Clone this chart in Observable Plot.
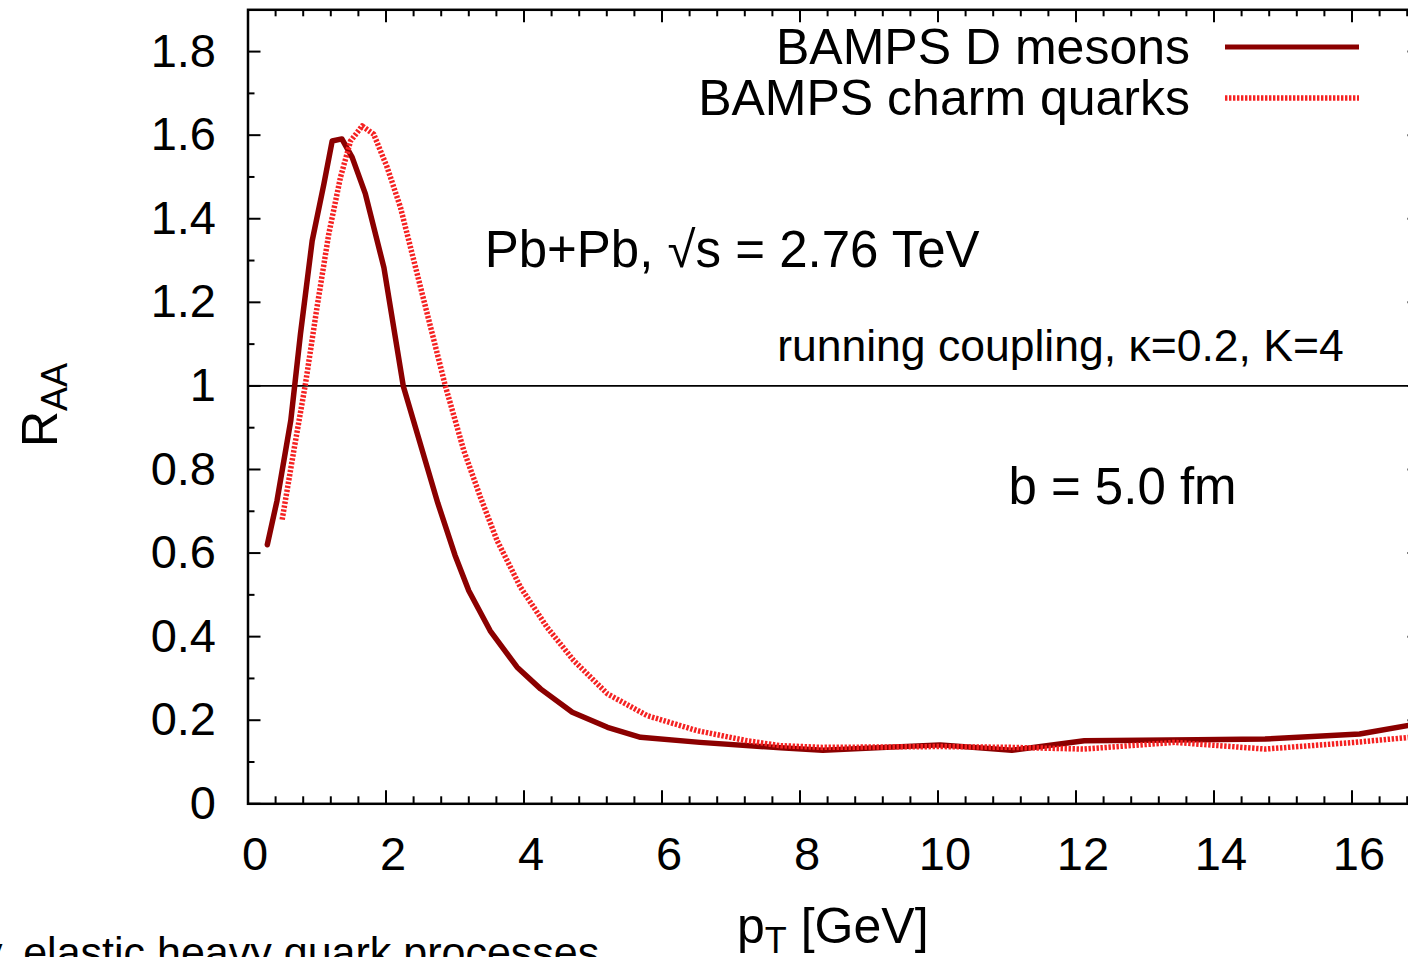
<!DOCTYPE html>
<html>
<head>
<meta charset="utf-8">
<script src="https://cdn.jsdelivr.net/npm/d3@7"></script>
<script src="https://cdn.jsdelivr.net/npm/@observablehq/plot@0.6"></script>
<style>
  html, body { margin: 0; padding: 0; overflow: hidden; background: white; }
  #wrap { position: relative; width: 1408px; height: 957px; overflow: hidden; font-family: "Liberation Sans", Arial, Helvetica, sans-serif; color: black; }
  #chart { position: absolute; left: 0; top: 0; width: 1430px; }
  #chart svg { max-width: none !important; width: 1430px; height: 957px; }
  .ov { position: absolute; white-space: nowrap; line-height: 1; }
  sub { font-size: 0.72em; vertical-align: -0.28em; line-height: 0; }
</style>
</head>
<body>
<div id="wrap">
  <div id="chart"></div>
  <div class="ov" id="legend1" style="right:218px; top:22px; font-size:50px;">BAMPS D mesons</div>
  <div class="ov" id="legend2" style="right:218px; top:73px; font-size:50px;">BAMPS charm quarks</div>
  <svg class="ov" style="left:1225px; top:37px;" width="134" height="70">
    <line x1="0" x2="134" y1="10" y2="10" stroke="#8b0000" stroke-width="5"></line>
    <line x1="0" x2="134" y1="61" y2="61" stroke="#f52222" stroke-width="5.5" stroke-dasharray="2.4,1.6"></line>
  </svg>
  <div class="ov" style="left:737px; top:901px; font-size:50px;">p<sub>T</sub> [GeV]</div>
  <div class="ov" style="left:40px; top:405px; font-size:50px; transform: translate(-50%,-50%) rotate(-90deg);">R<sub>AA</sub></div>
  <div class="ov" style="left:-19px; top:931px; font-size:43px;">y, elastic heavy quark processes</div>
</div>
<script>
// BAMPS D mesons (solid dark red)
const dMesonPt  = [0.28, 0.42, 0.62, 0.76, 0.93, 1.10, 1.22, 1.36, 1.51, 1.70, 1.97, 2.25, 2.50, 2.75, 3.00, 3.20, 3.51, 3.90, 4.24, 4.70, 5.21, 5.69, 6.55, 7.72, 8.33, 10.03, 11.07, 12.12, 13.75, 14.74, 16.11, 16.90];
const dMesonRaa = [0.62, 0.725, 0.917, 1.124, 1.347, 1.483, 1.586, 1.591, 1.547, 1.46, 1.283, 1.0, 0.86, 0.72, 0.595, 0.51, 0.414, 0.327, 0.275, 0.219, 0.183, 0.159, 0.147, 0.134, 0.128, 0.141, 0.128, 0.151, 0.153, 0.155, 0.167, 0.19];

// BAMPS charm quarks (dotted red)
const charmPt  = [0.495, 0.664, 0.833, 1.0, 1.17, 1.34, 1.486, 1.655, 1.823, 2.017, 2.21, 2.452, 2.693, 2.86, 3.128, 3.37, 3.61, 3.95, 4.336, 4.72, 5.21, 5.785, 6.51, 7.23, 7.72, 8.33, 10.03, 11.07, 12.12, 13.43, 14.74, 16.04, 16.90];
const charmRaa = [0.68, 0.845, 1.005, 1.188, 1.363, 1.499, 1.586, 1.622, 1.602, 1.523, 1.427, 1.268, 1.11, 1.0, 0.845, 0.733, 0.63, 0.518, 0.422, 0.343, 0.263, 0.211, 0.175, 0.151, 0.139, 0.135, 0.137, 0.135, 0.131, 0.147, 0.131, 0.147, 0.16];

// Axis ticks
const xMajor = [0, 2, 4, 6, 8, 10, 12, 14, 16];
const xMinor = [0.4, 0.8, 1.2, 1.6, 2.4, 2.8, 3.2, 3.6, 4.4, 4.8, 5.2, 5.6, 6.4, 6.8, 7.2, 7.6, 8.4, 8.8, 9.2, 9.6, 10.4, 10.8, 11.2, 11.6, 12.4, 12.8, 13.2, 13.6, 14.4, 14.8, 15.2, 15.6, 16.4, 16.8];
const yMajor = [0, 0.2, 0.4, 0.6, 0.8, 1, 1.2, 1.4, 1.6, 1.8];
const yMinor = [0.1, 0.3, 0.5, 0.7, 0.9, 1.1, 1.3, 1.5, 1.7];
const xTickLabels = ["0", "2", "4", "6", "8", "10", "12", "14", "16"];
const yTickLabels = ["0", "0.2", "0.4", "0.6", "0.8", "1", "1.2", "1.4", "1.6", "1.8"];

// Annotations
const annotations = [
  {text: "Pb+Pb, \u221As = 2.76 TeV", x: 3.43, y: 1.323, size: 51, anchor: "start"},
  {text: "running coupling, \u03BA=0.2, K=4", x: 15.88, y: 1.093, size: 44.5, anchor: "end"},
  {text: "b = 5.0 fm", x: 11.02, y: 0.757, size: 51, anchor: "start"}
];

const dData = dMesonPt.map((p, i) => ({pt: p, raa: dMesonRaa[i]}));
const cData = charmPt.map((p, i) => ({pt: p, raa: charmRaa[i]}));

const W = 1430, H = 957;
const mL = 247.5, mT = 9.3, mB = 153.7, mR = 9.5;
const plotH = H - mT - mB;
const plotW = W - mL - mR;
const majLen = 13, minLen = 7;

const chart = Plot.plot({
  width: W, height: H,
  marginLeft: mL, marginRight: mR, marginTop: mT, marginBottom: mB,
  style: {fontFamily: "'Liberation Sans', Arial, Helvetica, sans-serif", fontSize: "47px", background: "white", color: "black", maxWidth: "none"},
  x: {domain: [0, 17]},
  y: {domain: [0, 1.9]},
  marks: [
    Plot.ruleY([1], {stroke: "black", strokeWidth: 1.8}),
    Plot.line(dData, {x: "pt", y: "raa", stroke: "#8b0000", strokeWidth: 5.5}),
    Plot.line(cData, {x: "pt", y: "raa", stroke: "#f52222", strokeWidth: 5.5, strokeDasharray: "2.4,1.6", strokeLinecap: "butt"}),
    // inward ticks: bottom & top
    Plot.tickX(xMajor, {x: d => d, insetTop: plotH - majLen, stroke: "black", strokeWidth: 2}),
    Plot.tickX(xMinor, {x: d => d, insetTop: plotH - minLen, stroke: "black", strokeWidth: 2}),
    Plot.tickX(xMajor, {x: d => d, insetBottom: plotH - majLen, stroke: "black", strokeWidth: 2}),
    Plot.tickX(xMinor, {x: d => d, insetBottom: plotH - minLen, stroke: "black", strokeWidth: 2}),
    // inward ticks: left & right
    Plot.tickY(yMajor, {y: d => d, insetRight: plotW - majLen, stroke: "black", strokeWidth: 2}),
    Plot.tickY(yMinor, {y: d => d, insetRight: plotW - minLen, stroke: "black", strokeWidth: 2}),
    Plot.tickY(yMajor, {y: d => d, insetLeft: plotW - majLen, stroke: "black", strokeWidth: 2}),
    Plot.tickY(yMinor, {y: d => d, insetLeft: plotW - minLen, stroke: "black", strokeWidth: 2}),
    Plot.frame({stroke: "black", strokeWidth: 2.5}),
    Plot.axisX({ticks: xMajor, tickSize: 0, tickPadding: 33, fontSize: 47, dx: 7, label: null,
      tickFormat: d => xTickLabels[xMajor.indexOf(d)]}),
    Plot.axisY({ticks: yMajor, tickSize: 0, tickPadding: 32, fontSize: 47, label: null,
      tickFormat: d => yTickLabels[yMajor.indexOf(d)]}),
    ...annotations.map(a => Plot.text([a], {x: "x", y: "y", text: "text", fontSize: a.size, textAnchor: a.anchor, lineAnchor: "middle", fill: "black"}))
  ]
});
document.getElementById("chart").appendChild(chart);
</script>
</body>
</html>
